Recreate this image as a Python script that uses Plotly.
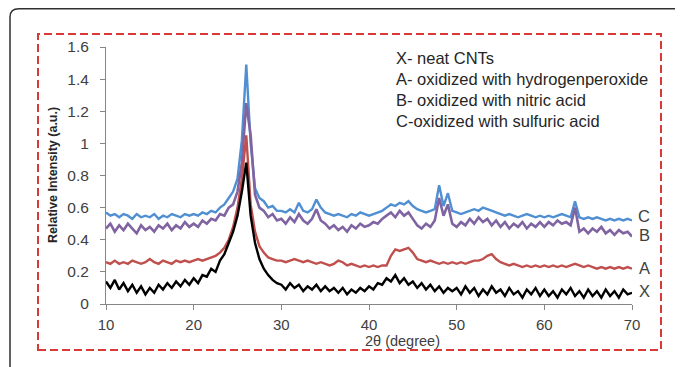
import plotly.graph_objects as go
import numpy as np

# 2-theta positions (degree), step 0.5 from 10 to 70
two_theta = list(np.round(np.arange(10, 70.01, 0.5), 2))

# C - oxidized with sulfuric acid (blue)
c_vals = [
    0.57, 0.55, 0.56, 0.54, 0.56, 0.55, 0.53, 0.56, 0.54, 0.55,
    0.54, 0.56, 0.53, 0.55, 0.54, 0.56, 0.55, 0.54, 0.56, 0.55,
    0.56, 0.55, 0.57, 0.56, 0.58, 0.57, 0.60, 0.62, 0.66, 0.70,
    0.78, 1.02, 1.49, 1.00, 0.72, 0.66, 0.64, 0.60, 0.61, 0.58,
    0.58, 0.57, 0.59, 0.57, 0.63, 0.58, 0.57, 0.59, 0.65, 0.60,
    0.57, 0.56, 0.55, 0.56, 0.55, 0.54, 0.56, 0.55, 0.57, 0.56,
    0.55, 0.56, 0.57, 0.58, 0.60, 0.62, 0.61, 0.63, 0.62, 0.64,
    0.61, 0.59, 0.58, 0.57, 0.58, 0.59, 0.74, 0.61, 0.69, 0.58,
    0.57, 0.56, 0.57, 0.58, 0.59, 0.58, 0.60, 0.59, 0.58, 0.57,
    0.56, 0.55, 0.56, 0.55, 0.54, 0.55, 0.56, 0.55, 0.54, 0.55,
    0.54, 0.55, 0.54, 0.55, 0.56, 0.55, 0.54, 0.64, 0.54, 0.53,
    0.54, 0.53, 0.54, 0.53, 0.52, 0.53, 0.52, 0.53, 0.52, 0.53,
    0.52,
]

# B - oxidized with nitric acid (purple)
b_vals = [
    0.47, 0.50, 0.45, 0.49, 0.46, 0.50, 0.47, 0.44, 0.49, 0.46,
    0.48, 0.45, 0.49, 0.47, 0.50, 0.46, 0.49, 0.47, 0.51, 0.48,
    0.50, 0.48, 0.52, 0.50, 0.53, 0.52, 0.56, 0.55, 0.60, 0.62,
    0.70, 0.88, 1.25, 1.05, 0.68, 0.60, 0.58, 0.54, 0.56, 0.52,
    0.53, 0.50, 0.54, 0.51, 0.56, 0.52, 0.50, 0.53, 0.59, 0.52,
    0.50, 0.47, 0.49, 0.46, 0.48, 0.45, 0.49, 0.47, 0.50, 0.48,
    0.49, 0.51, 0.50, 0.53, 0.55, 0.57, 0.54, 0.58, 0.55, 0.57,
    0.53, 0.49, 0.47, 0.50, 0.48, 0.52, 0.66, 0.55, 0.62, 0.50,
    0.48, 0.51, 0.49, 0.53, 0.50, 0.54, 0.51, 0.53, 0.49, 0.52,
    0.48, 0.51, 0.47, 0.50, 0.48, 0.51, 0.47, 0.50, 0.48, 0.51,
    0.48, 0.51, 0.49, 0.52, 0.50, 0.51, 0.49, 0.60, 0.45, 0.47,
    0.44, 0.47, 0.45, 0.48, 0.44, 0.46, 0.43, 0.46, 0.44, 0.45,
    0.42,
]

# A - oxidized with hydrogenperoxide (red)
a_vals = [
    0.26, 0.25, 0.27, 0.25, 0.26, 0.25, 0.27, 0.26, 0.25, 0.26,
    0.28, 0.26, 0.25, 0.27, 0.26, 0.25, 0.27, 0.26, 0.27, 0.26,
    0.27, 0.28, 0.27, 0.28, 0.29, 0.30, 0.32, 0.35, 0.40, 0.48,
    0.60, 0.78, 1.05, 0.62, 0.45, 0.36, 0.32, 0.29, 0.28, 0.27,
    0.27, 0.26, 0.27, 0.28, 0.27, 0.26, 0.27, 0.26, 0.25, 0.26,
    0.25, 0.24, 0.25, 0.27, 0.26, 0.24, 0.25, 0.24, 0.23, 0.24,
    0.23, 0.24, 0.23, 0.24, 0.24, 0.30, 0.34, 0.33, 0.34, 0.35,
    0.32, 0.28, 0.27, 0.26, 0.27, 0.26, 0.25, 0.26, 0.25, 0.26,
    0.25, 0.26, 0.25, 0.26, 0.27, 0.27, 0.28, 0.30, 0.31, 0.28,
    0.26, 0.25, 0.24, 0.25, 0.24, 0.23, 0.24, 0.23, 0.24, 0.23,
    0.24, 0.23, 0.24, 0.23, 0.24, 0.23, 0.24, 0.25, 0.24, 0.23,
    0.24, 0.23, 0.22, 0.23, 0.22, 0.23, 0.22, 0.23, 0.22, 0.23,
    0.22,
]

# X - neat CNTs (black)
x_vals = [
    0.14, 0.10, 0.15, 0.09, 0.13, 0.08, 0.12, 0.07, 0.11, 0.06,
    0.10, 0.07, 0.12, 0.09, 0.13, 0.10, 0.14, 0.11, 0.15, 0.12,
    0.16, 0.13, 0.18, 0.17, 0.22, 0.20, 0.27, 0.31, 0.38, 0.45,
    0.55, 0.70, 0.88, 0.55, 0.38, 0.28, 0.22, 0.18, 0.15, 0.13,
    0.12, 0.09, 0.13, 0.10, 0.12, 0.08, 0.11, 0.09, 0.12, 0.08,
    0.11, 0.08, 0.10, 0.07, 0.10, 0.06, 0.09, 0.07, 0.10, 0.08,
    0.11, 0.09, 0.13, 0.12, 0.16, 0.14, 0.18, 0.13, 0.16, 0.12,
    0.14, 0.10, 0.13, 0.09, 0.12, 0.08, 0.11, 0.07, 0.10, 0.08,
    0.10, 0.06, 0.11, 0.07, 0.10, 0.05, 0.09, 0.06, 0.11, 0.07,
    0.09, 0.05, 0.10, 0.06, 0.08, 0.04, 0.09, 0.06, 0.10, 0.05,
    0.09, 0.05, 0.08, 0.04, 0.09, 0.06, 0.10, 0.05, 0.08, 0.04,
    0.09, 0.05, 0.08, 0.04, 0.09, 0.05, 0.08, 0.04, 0.09, 0.06,
    0.07,
]

legend_lines = [
    "X- neat CNTs",
    "A- oxidized with hydrogenperoxide",
    "B- oxidized with nitric acid",
    "C-oxidized with sulfuric acid",
]
end_labels = ["C", "B", "A", "X"]
end_label_y = [0.55, 0.43, 0.225, 0.08]

series = [
    ("C", c_vals, "#4F8FD2", 2.4),
    ("B", b_vals, "#8064A2", 2.6),
    ("A", a_vals, "#C0504D", 2.4),
    ("X", x_vals, "#000000", 2.4),
]

fig = go.Figure()
for name, vals, col, w in series:
    fig.add_trace(go.Scatter(x=two_theta, y=vals, mode="lines", name=name,
                             line=dict(color=col, width=w), showlegend=False))

OFF = 8  # page body margin
W, H = 675, 359
L, R, T, B = 98, 51, 39, 63
pw, ph = W - L - R, H - T - B

def px(xp):  # page pixel x -> paper
    return (xp - OFF - L) / pw

def py(yp):  # page pixel y -> paper
    return (H - B - (yp - OFF)) / ph

font = "Liberation Sans, Arial, sans-serif"
annotations = []
for i, txt in enumerate(legend_lines):
    annotations.append(dict(text=txt, xref="paper", yref="paper", x=px(394), y=py([58, 79, 100, 121][i]),
                            xanchor="left", yanchor="middle", showarrow=False,
                            font=dict(family=font, size=16.5, color="#262626")))
for lab, yv in zip(end_labels, end_label_y):
    annotations.append(dict(text=lab, xref="paper", yref="y", x=px(644), y=yv,
                            xanchor="center", yanchor="middle", showarrow=False,
                            font=dict(family=font, size=16.5, color="#404040")))
annotations.append(dict(text="2θ (degree)", xref="paper", yref="paper", x=px(402), y=py(341),
                        xanchor="center", yanchor="middle", showarrow=False,
                        font=dict(family=font, size=14.5, color="#404040")))
annotations.append(dict(text="<b>Relative Intensity (a.u.)</b>", xref="paper", yref="paper",
                        x=px(53), y=py(175), textangle=-90, xanchor="center", yanchor="middle",
                        showarrow=False, font=dict(family=font, size=12.5, color="#262626")))

shapes = [
    dict(type="rect", xref="paper", yref="paper", x0=px(38), x1=px(661), y0=py(350), y1=py(34),
         line=dict(color="#D93A36", width=2, dash="8px,4px"), layer="below"),
    dict(type="path", xref="paper", yref="paper",
         path=f"M {px(720)} {py(8.8)} L {px(19)} {py(8.8)} Q {px(10)} {py(8.8)} {px(10)} {py(17)} L {px(10)} {py(400)}",
         line=dict(color="#303030", width=1.5)),
]

fig.update_layout(
    width=W, height=H,
    margin=dict(l=L, r=R, t=T, b=B),
    paper_bgcolor="white", plot_bgcolor="white",
    annotations=annotations, shapes=shapes,
    xaxis=dict(range=[10, 70], tickvals=[10, 20, 30, 40, 50, 60, 70], showgrid=False, zeroline=False,
               showline=True, linecolor="#868686", linewidth=1, ticks="outside", ticklen=5,
               tickcolor="#868686", ticklabelstandoff=2,
               tickfont=dict(family=font, size=15, color="#404040")),
    yaxis=dict(range=[0, 1.6], tickvals=[0, 0.2, 0.4, 0.6, 0.8, 1, 1.2, 1.4, 1.6],
               ticktext=["0", "0.2", "0.4", "0.6", "0.8", "1", "1.2", "1.4", "1.6"],
               showgrid=False, zeroline=False,
               showline=True, linecolor="#868686", linewidth=1, ticks="outside", ticklen=5,
               tickcolor="#868686", ticklabelstandoff=8,
               tickfont=dict(family=font, size=15.5, color="#404040")),
)

fig.write_html("out.html")
